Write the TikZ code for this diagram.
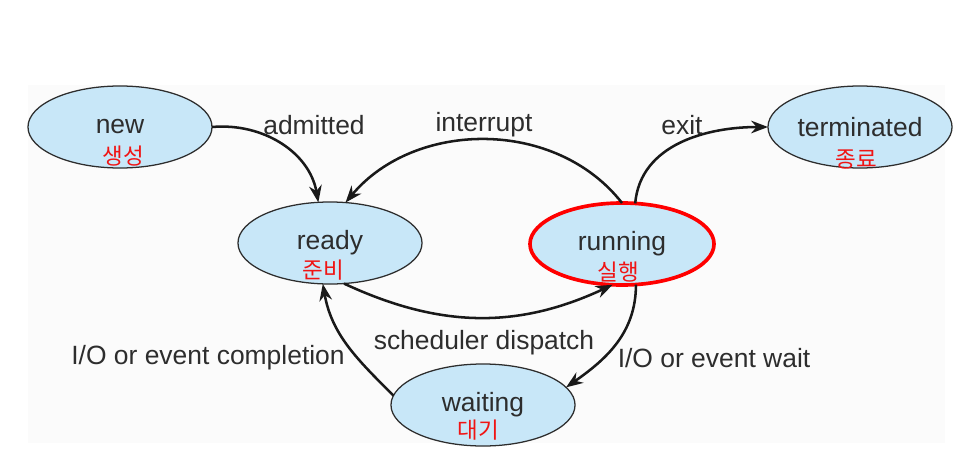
\documentclass[tikz,border=0pt]{standalone}
\usepackage{fontspec}
\setmainfont{Liberation Sans}
\newfontfamily\hangul{Noto Sans CJK KR}
\usepackage{tikz}
\usetikzlibrary{shapes.geometric,arrows.meta}
\definecolor{etatbleu}{RGB}{200,231,248}
\definecolor{encre}{RGB}{45,45,45}
\definecolor{stylo}{RGB}{240,20,20}
\definecolor{fond}{RGB}{251,251,251}

\begin{document}
\begin{tikzpicture}[x=0.025cm,y=-0.025cm,
    etat/.style={ellipse,draw=encre,line width=0.9pt,fill=etatbleu,
      minimum width=4.6cm,minimum height=2.05cm,inner sep=0pt,outer sep=0pt,
      text=encre,font=\fontsize{18.8}{22}\selectfont},
    trans/.style={line width=1.8pt,draw=black!90,-{Stealth[length=12pt,width=9pt]}},
    etiq/.style={text=encre,font=\fontsize{18.8}{22}\selectfont,inner sep=0pt},
    note/.style={text=stylo,font=\hangul\fontsize{16}{18}\selectfont,inner sep=0pt}]
  \useasboundingbox (0,0) rectangle (977,453);
  \fill[fond] (28,85) rectangle (945,443);

  % ETATS
  \node[etat] (new) at (120,127) {new};
  \node[etat] (ready) at (330,243) {ready};
  \node[etat,draw=red,line width=2.6pt] (running) at (622,244) {running};
  \node[etat] (terminated) at (860,127) {terminated};
  \node[etat] (waiting) at (483,405) {waiting};

  % TRANSITIONS
  \draw[trans] (new.east) to[out=5,in=100] (ready.106);
  \draw[trans] (running.90) to[out=128,in=50] (ready.69);
  \draw[trans] (running.72) to[out=85,in=180] (terminated.west);
  \draw[trans] (ready.-71) to[out=-25,in=-155] (running.-103);
  \draw[trans] (running.-71) to[out=-90,in=35] (waiting.12);
  \draw[trans] (waiting.174) to[out=135,in=-80] (ready.-100);

  % ETIQUETTES
  \node[etiq] (admitted) at (314,125) {admitted};
  \node[etiq] (interrupt) at (484,125) {interrupt};
  \node[etiq] (exit) at (682,125) {exit};
  \node[etiq] (dispatch) at (484,343) {scheduler dispatch};
  \node[etiq] (completion) at (208,358) {I/O or event completion};
  \node[etiq] (wait) at (714,358) {I/O or event wait};

  % NOTES
  \node[note] (n1) at (123,156) {생성};
  \node[note] (n2) at (323,270) {준비};
  \node[note] (n3) at (618,272) {실행};
  \node[note] (n4) at (856,160) {종료};
  \node[note] (n5) at (478,430) {대기};
\end{tikzpicture}
\end{document}
